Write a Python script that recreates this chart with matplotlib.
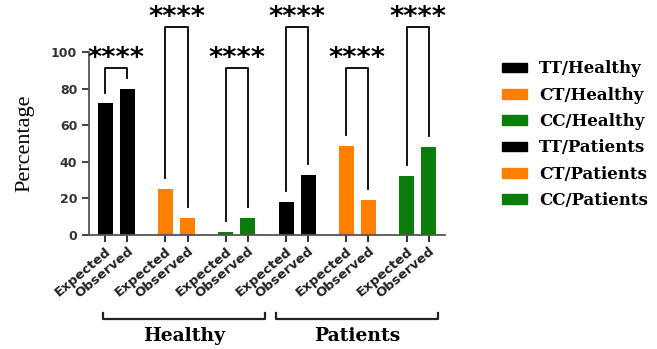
import matplotlib.pyplot as plt
import matplotlib.transforms as mtransforms
from matplotlib.patches import Patch
import numpy as np

# ---------- DATA ----------
groups = ['TT/Healthy', 'CT/Healthy', 'CC/Healthy', 'TT/Patients', 'CT/Patients', 'CC/Patients']
expected = [72, 25, 1.5, 18, 48.5, 32.5]
observed = [80, 9.5, 9.5, 33, 19, 48]
colors = ['#000000', '#FF8000', '#0B7D0B', '#000000', '#FF8000', '#0B7D0B']
sig_labels = ['****'] * 6
cohorts = ['Healthy', 'Patients']

# ---------- LAYOUT ----------
step = 2.73
width = 0.68
pos = np.arange(len(groups)) * step
bracket_top = [91.6, 114, 91.6, 114, 91.6, 114]

fig = plt.figure(figsize=(6.57, 3.49), dpi=100)
ax = fig.add_axes([0.1355, 0.3266, 0.5415, 0.5235])

for i in range(len(groups)):
    ax.bar(pos[i], expected[i], width, color=colors[i])
    ax.bar(pos[i] + 1, observed[i], width, color=colors[i])
    # significance bracket
    top = bracket_top[i]
    xs = [pos[i], pos[i], pos[i] + 1, pos[i] + 1]
    ys = [expected[i] + 6, top, top, observed[i] + 6]
    ax.plot(xs, ys, color='black', lw=1.3, clip_on=False)
    ax.text(pos[i] + 0.5, top + 5, sig_labels[i], ha='center', va='center',
            fontsize=19.5, fontweight='bold', color='black', clip_on=False)

ax.set_xlim(-0.73, pos[-1] + 1.73)
ax.set_ylim(0, 100)
ax.set_yticks([0, 20, 40, 60, 80, 100])
ax.tick_params(axis='y', labelsize=9, width=1.3, length=5, colors='#333333')
for lab in ax.get_yticklabels():
    lab.set_fontweight('bold')

xt = np.sort(np.concatenate([pos, pos + 1]))
ax.set_xticks(xt)
ax.set_xticklabels(['Expected', 'Observed'] * len(groups), rotation=40,
                   ha='right', rotation_mode='anchor', fontsize=9.5, fontweight='bold')
ax.tick_params(axis='x', width=1.3, length=5, pad=2, colors='#222222')

for s in ['top', 'right']:
    ax.spines[s].set_visible(False)
for s in ['left', 'bottom']:
    ax.spines[s].set_linewidth(1.3)
    ax.spines[s].set_color('#555555')

ax.set_ylabel('Percentage', family='Liberation Serif', fontsize=16, labelpad=12)

# cohort brackets below the tick labels
trans = mtransforms.blended_transform_factory(ax.transData, ax.transAxes)
spans = [(-0.1, pos[2] + 1.77), (pos[3] - 0.46, pos[5] + 1.41)]
for name, (x0, x1) in zip(cohorts, spans):
    ax.plot([x0, x0, x1, x1], [-0.425, -0.46, -0.46, -0.425], color='#222222',
            lw=1.6, transform=trans, clip_on=False)
    ax.text((x0 + x1) / 2, -0.555, name, ha='center', va='center', transform=trans,
            family='DejaVu Serif', fontsize=13.5, fontweight='bold')

# legend
handles = [Patch(facecolor=c, edgecolor=c) for c in colors]
leg = fig.legend(handles, groups, loc='upper left', bbox_to_anchor=(0.742, 0.87),
                 frameon=False, handlelength=1.45, handleheight=0.5,
                 handletextpad=0.75, labelspacing=0.56,
                 prop={'family': 'DejaVu Serif', 'weight': 'bold', 'size': 12})

plt.savefig('out.png', dpi=100)
